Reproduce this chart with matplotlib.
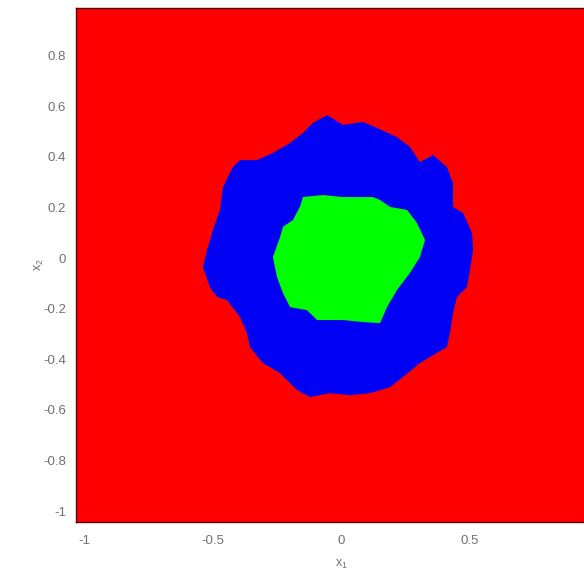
import matplotlib
matplotlib.use("Agg")
import matplotlib.pyplot as plt

plt.rcParams['font.family'] = ['Liberation Sans', 'DejaVu Sans']
plt.rcParams['mathtext.fontset'] = 'custom'
plt.rcParams['mathtext.rm'] = 'Liberation Sans'
plt.rcParams['mathtext.it'] = 'Liberation Sans'

# Outer (blue) region boundary, data coordinates
blue_x = [-0.054, 0.008, 0.086, 0.140, 0.218, 0.268, 0.307, 0.358, 0.412, 0.436,
          0.436, 0.475, 0.510, 0.514, 0.502, 0.490, 0.451, 0.436, 0.424, 0.412,
          0.346, 0.307, 0.241, 0.191, 0.113, 0.035, -0.043, -0.121, -0.171, -0.237,
          -0.304, -0.354, -0.366, -0.393, -0.444, -0.482, -0.510, -0.537, -0.521, -0.498,
          -0.471, -0.459, -0.420, -0.393, -0.327, -0.265, -0.198, -0.148, -0.109]
blue_y = [0.565, 0.526, 0.538, 0.514, 0.478, 0.439, 0.379, 0.407, 0.360, 0.296,
          0.202, 0.178, 0.099, 0.032, -0.047, -0.115, -0.154, -0.217, -0.296, -0.352,
          -0.391, -0.415, -0.470, -0.510, -0.534, -0.542, -0.534, -0.549, -0.522, -0.455,
          -0.415, -0.352, -0.296, -0.233, -0.166, -0.154, -0.115, -0.036, 0.032, 0.111,
          0.190, 0.281, 0.360, 0.387, 0.387, 0.415, 0.455, 0.494, 0.534]

# Inner (green) region boundary
green_x = [-0.148, -0.070, 0.008, 0.125, 0.152, 0.191, 0.257, 0.296, 0.327, 0.307,
           0.268, 0.218, 0.179, 0.152, 0.086, 0.008, -0.093, -0.132, -0.198, -0.226,
           -0.249, -0.265, -0.237, -0.226, -0.187, -0.160]
green_y = [0.241, 0.249, 0.241, 0.241, 0.229, 0.202, 0.190, 0.138, 0.071, 0.004,
           -0.059, -0.126, -0.194, -0.257, -0.253, -0.245, -0.245, -0.206, -0.194, -0.138,
           -0.075, 0.004, 0.083, 0.123, 0.150, 0.202]

x_ticks = [-1, -0.5, 0, 0.5]
x_tick_labels = ['-1', '-0.5', '0', '0.5']
y_ticks = [-1, -0.8, -0.6, -0.4, -0.2, 0, 0.2, 0.4, 0.6, 0.8]
y_tick_labels = ['-1', '-0.8', '-0.6', '-0.4', '-0.2', '0', '0.2', '0.4', '0.6', '0.8']

W, H = 584, 579
fig = plt.figure(figsize=(W / 100, H / 100), dpi=100)
left, right, top, bottom = 76, 606, 8, 522
ax = fig.add_axes([left / W, (H - bottom) / H, (right - left) / W, (bottom - top) / H])
ax.set_facecolor('#ff0000')
ax.set_xlim(-1.031, 1.031)
ax.set_ylim(-1.043, 0.988)

ax.fill(blue_x, blue_y, color='#0000f5', lw=0)
ax.fill(green_x, green_y, color='#00ff00', lw=0)

gray = '#707070'
ax.set_xticks(x_ticks)
ax.set_xticklabels(x_tick_labels)
ax.set_yticks(y_ticks)
ax.set_yticklabels(y_tick_labels)
ax.tick_params(direction='in', length=0, labelsize=9.5, labelcolor=gray)
ax.tick_params(axis='x', pad=9)
ax.tick_params(axis='y', pad=7)
for s in ax.spines.values():
    s.set_color('#550000')
    s.set_linewidth(1.0)

ax.set_xlabel(r'$x_1$', fontsize=9, color=gray, labelpad=8)
ax.set_ylabel(r'$x_2$', fontsize=9, color=gray, labelpad=-2)

fig.savefig('out.png', dpi=100)
